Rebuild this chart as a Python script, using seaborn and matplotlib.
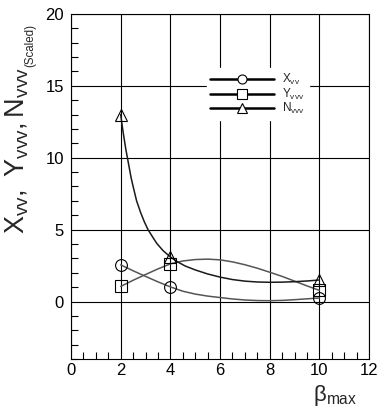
import numpy as np
import pandas as pd
import matplotlib
matplotlib.use("Agg")
import matplotlib.pyplot as plt
from matplotlib.lines import Line2D
from matplotlib.ticker import MultipleLocator
import seaborn as sns

# marker values
beta = [2, 4, 10]
x_vv = [2.55, 1.02, 0.25]
y_vvv = [1.05, 2.62, 0.78]
n_vvv = [13.0, 3.1, 1.5]

# fitted curves
xv_fit_b = [2, 2.5, 3, 3.5, 4, 4.5, 5, 5.5, 6, 6.5, 7, 7.5, 8, 8.5, 9, 9.5, 10]
xv_fit = [2.55, 2.14, 1.75, 1.37, 1.02, 0.72, 0.52, 0.38, 0.28, 0.18, 0.11, 0.07, 0.06, 0.08, 0.13, 0.19, 0.25]
yv_fit_b = [2, 2.5, 3, 3.5, 4, 4.5, 5, 5.5, 6, 6.5, 7, 7.5, 8, 8.5, 9, 9.5, 10]
yv_fit = [1.05, 1.48, 1.88, 2.27, 2.62, 2.82, 2.92, 2.95, 2.9, 2.76, 2.56, 2.32, 2.04, 1.75, 1.42, 1.09, 0.78]
nv_fit_b = [2.0, 2.05, 2.1, 2.15, 2.2, 2.27, 2.35, 2.42, 2.5, 2.64, 2.8, 2.95, 3.1, 3.3, 3.45, 3.7, 4.0,
            4.3, 4.6, 5.0, 5.5, 6.0, 6.5, 7.0, 7.5, 8.0, 8.5, 9.0, 9.5, 10.0]
nv_fit = [13.0, 12.35, 11.75, 11.2, 10.65, 10.0, 9.25, 8.6, 8.0, 7.0, 6.2, 5.55, 5.0, 4.45, 4.05, 3.55, 3.1,
          2.75, 2.47, 2.2, 1.92, 1.7, 1.53, 1.42, 1.36, 1.34, 1.35, 1.38, 1.43, 1.5]

sns.set_style("white")
plt.rcParams['font.family'] = ['Liberation Sans', 'DejaVu Sans']
plt.rcParams['mathtext.fontset'] = 'custom'
plt.rcParams['mathtext.rm'] = 'Liberation Sans'
plt.rcParams['mathtext.it'] = 'Liberation Sans:italic'

fig = plt.figure(figsize=(3.84, 4.2), dpi=100)
ax = fig.add_axes([0.185, 0.145, 0.776, 0.822])

grey = '#555555'
sns.lineplot(x=xv_fit_b, y=xv_fit, ax=ax, color=grey, lw=1.1, sort=False, estimator=None)
sns.lineplot(x=yv_fit_b, y=yv_fit, ax=ax, color=grey, lw=1.1, sort=False, estimator=None)
sns.lineplot(x=nv_fit_b, y=nv_fit, ax=ax, color='#1a1a1a', lw=1.1, sort=False, estimator=None)

ax.plot(beta, x_vv, ls='none', marker='o', ms=8.5, mfc='none', mec='black', mew=0.8)
ax.plot(beta, y_vvv, ls='none', marker='s', ms=8.5, mfc='none', mec='black', mew=0.8)
ax.plot(beta, n_vvv, ls='none', marker='^', ms=9, mfc='none', mec='black', mew=0.8)

ax.set_xlim(0, 12)
ax.set_ylim(-4, 20)
ax.xaxis.set_major_locator(MultipleLocator(2))
ax.xaxis.set_minor_locator(MultipleLocator(0.5))
ax.yaxis.set_major_locator(MultipleLocator(5))
ax.yaxis.set_minor_locator(MultipleLocator(1))
ax.grid(True, which='major', color='black', lw=0.8)
ax.set_axisbelow(True)
ax.tick_params(which='major', length=0, labelsize=12, colors='black')
ax.tick_params(axis='x', which='major', pad=3)
ax.tick_params(axis='y', which='major', pad=5)
ax.tick_params(which='minor', direction='in', length=5, width=0.8, color='black',
               bottom=True, left=True, top=False, right=False)
for s in ax.spines.values():
    s.set_color('black')
    s.set_linewidth(0.8)

handles = [
    Line2D([], [], color='black', lw=1.8, marker='o', ms=6.5, mfc='white', mec='black', mew=0.8),
    Line2D([], [], color='black', lw=1.8, marker='s', ms=6.5, mfc='white', mec='black', mew=0.8),
    Line2D([], [], color='black', lw=1.8, marker='^', ms=7, mfc='white', mec='black', mew=0.8),
]
labels = [r'X$_{\mathrm{vv}}$', r'Y$_{\mathrm{vvv}}$', r'N$_{\mathrm{vvv}}$']
leg = ax.legend(handles, labels, loc='center left', bbox_to_anchor=(0.455, 0.768),
                fontsize=8.5, frameon=True, fancybox=False, framealpha=1, edgecolor='white',
                handlelength=5.4, handletextpad=0.7, labelspacing=-0.02, borderpad=0.3,
                borderaxespad=0, handleheight=0.5)

# y label: main part sized to span 234 -> 67 px, then "(Scaled)" above it
main = fig.text(0.01, 1 - 234 / 420, r'$\mathrm{X_{vv},\ Y_{vvv},N_{vvv}}$',
                rotation=90, ha='left', va='bottom', fontsize=18)
fig.canvas.draw()
h = main.get_window_extent().height
main.set_fontsize(18 * 167 / h)
fig.canvas.draw()
bb = main.get_window_extent().transformed(fig.transFigure.inverted())
fig.text(24 / 384, bb.y1 + 0.001, '(Scaled)', rotation=90, ha='left', va='bottom', fontsize=8.3)

fig.text(335 / 384, 1 - 396 / 420, r'$\mathrm{β_{max}}$',
         ha='center', va='center', fontsize=16)

fig.savefig('out.png', dpi=100)
